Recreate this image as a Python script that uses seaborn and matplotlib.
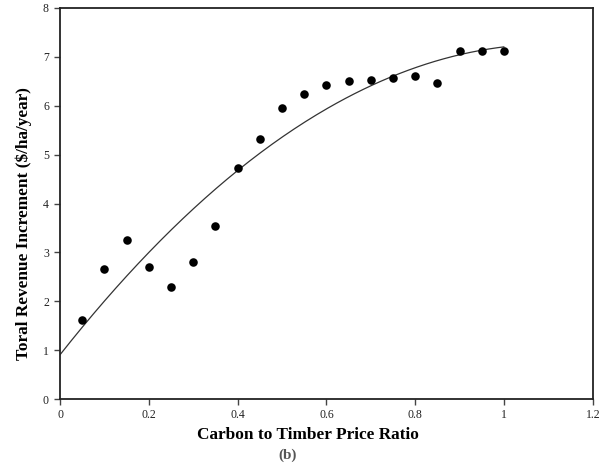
import numpy as np
import pandas as pd
import matplotlib
matplotlib.use("Agg")
import matplotlib.pyplot as plt
import seaborn as sns

# Carbon-to-timber price ratio and the resulting revenue increment
price_ratio = [0.05, 0.10, 0.15, 0.20, 0.25, 0.30, 0.35, 0.40, 0.45, 0.50,
               0.55, 0.60, 0.65, 0.70, 0.75, 0.80, 0.85, 0.90, 0.95, 1.00]
revenue_increment = [1.62, 2.67, 3.25, 2.71, 2.29, 2.81, 3.55, 4.72, 5.32, 5.96,
                     6.24, 6.42, 6.50, 6.52, 6.56, 6.61, 6.46, 7.12, 7.12, 7.12]

x_ticks = [0, 0.2, 0.4, 0.6, 0.8, 1, 1.2]
x_tick_labels = ["0", "0.2", "0.4", "0.6", "0.8", "1", "1.2"]
y_ticks = [0, 1, 2, 3, 4, 5, 6, 7, 8]

df = pd.DataFrame({"ratio": price_ratio, "revenue": revenue_increment})

sns.set_style("white")
plt.rcParams["font.family"] = ["Liberation Serif", "DejaVu Serif"]

fig = plt.figure(figsize=(6.0, 4.69), dpi=100)
ax = fig.add_axes([0.1, 0.149, 0.888, 0.834])

# Quadratic trend line fitted to the observations
coef = np.polyfit(df["ratio"], df["revenue"], 2)
xs = np.linspace(0, 1.0, 200)
ax.plot(xs, np.polyval(coef, xs), color="#333333", lw=0.9, zorder=2)

sns.scatterplot(data=df, x="ratio", y="revenue", ax=ax, color="black",
                s=38, edgecolor="black", linewidth=0, zorder=3, legend=False)

ax.set_xlim(0, 1.2)
ax.set_ylim(0, 8)
ax.set_xticks(x_ticks)
ax.set_xticklabels(x_tick_labels)
ax.set_yticks(y_ticks)

for s in ax.spines.values():
    s.set_visible(True)
    s.set_color("#222222")
    s.set_linewidth(1.3)

ax.tick_params(axis="both", direction="out", length=4, width=1, color="#444444",
               labelsize=8.5, labelcolor="#222222")
ax.tick_params(axis="x", pad=3)
ax.tick_params(axis="y", pad=4)
ax.xaxis.set_ticks_position("bottom")
ax.yaxis.set_ticks_position("left")

ax.set_xlabel("Carbon to Timber Price Ratio", fontsize=12.4, fontweight="bold",
              color="black", va="center")
ax.xaxis.set_label_coords(0.465, -0.092)
ax.set_ylabel("Toral Revenue Increment ($/ha/year)", fontsize=12.4,
              fontweight="bold", color="black", va="center")
ax.yaxis.set_label_coords(-0.0675, 0.45)

fig.text(0.48, 0.029, "(b)", ha="center", va="center", fontsize=11,
         fontweight="bold", color="#555555")

fig.savefig("out.png", dpi=100)
